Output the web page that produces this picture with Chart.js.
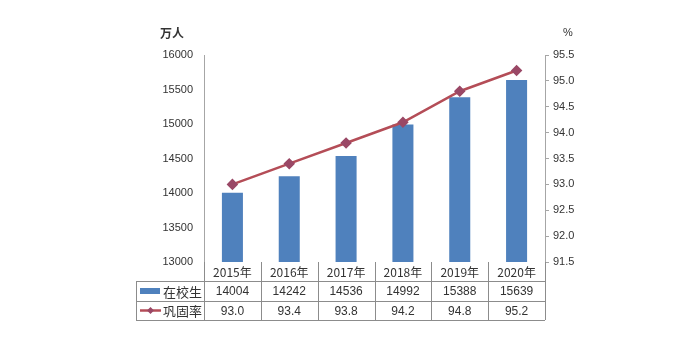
<!DOCTYPE html>
<html>
<head>
<meta charset="utf-8">
<script src="https://cdn.jsdelivr.net/npm/chart.js@4"></script>
<style>
  body { margin: 0; background: #fff; }
  canvas { display: block; }
</style>
</head>
<body>
<canvas id="chart" width="700" height="353"></canvas>
<script>
const years = ['2015年', '2016年', '2017年', '2018年', '2019年', '2020年'];
const students = [14004, 14242, 14536, 14992, 15388, 15639];
const rates = [93.0, 93.4, 93.8, 94.2, 94.8, 95.2];
const studentLabel = '在校生';
const rateLabel = '巩固率';
const leftUnit = '万人';
const rightUnit = '%';

const barColor = '#4F81BD';
const lineColor = '#B44D57';
const markerColor = '#9A4866';
const axisColor = '#A6A6A6';
const textColor = '#333';
const textFont = '"Liberation Sans", "Noto Sans CJK SC", sans-serif';
const cjkFont = '"Noto Sans CJK SC", sans-serif';

// draws the data table under the plot, plus the unit labels
const tablePlugin = {
    id: 'dataTable',
    afterDraw(chart) {
        const ctx = chart.ctx;
        const area = chart.chartArea;
        const x = chart.scales.x;
        const colW = (area.right - area.left) / years.length;
        const rowTops = [area.bottom, area.bottom + 19, area.bottom + 39, area.bottom + 58];
        const tableLeft = 136;

        ctx.save();
        ctx.strokeStyle = '#8C8C8C';
        ctx.lineWidth = 1;
        ctx.beginPath();
        // horizontal lines
        ctx.moveTo(tableLeft, rowTops[1] + 0.5); ctx.lineTo(area.right, rowTops[1] + 0.5);
        ctx.moveTo(tableLeft, rowTops[2] + 0.5); ctx.lineTo(area.right, rowTops[2] + 0.5);
        ctx.moveTo(tableLeft, rowTops[3] + 0.5); ctx.lineTo(area.right, rowTops[3] + 0.5);
        // vertical lines
        ctx.moveTo(tableLeft + 0.5, rowTops[1]); ctx.lineTo(tableLeft + 0.5, rowTops[3]);
        for (let i = 0; i <= years.length; i++) {
            const px = Math.round(area.left + i * colW) + 0.5;
            ctx.moveTo(px, rowTops[0]); ctx.lineTo(px, rowTops[3]);
        }
        ctx.stroke();

        ctx.fillStyle = textColor;
        ctx.textAlign = 'center';
        ctx.textBaseline = 'middle';
        ctx.font = '12px ' + cjkFont;
        years.forEach((y, i) => {
            ctx.fillText(y, x.getPixelForValue(i), (rowTops[0] + rowTops[1]) / 2 + 1);
        });
        ctx.font = '12px ' + textFont;
        students.forEach((v, i) => {
            ctx.fillText(String(v), x.getPixelForValue(i), (rowTops[1] + rowTops[2]) / 2 + 1);
        });
        rates.forEach((v, i) => {
            ctx.fillText(v.toFixed(1), x.getPixelForValue(i), (rowTops[2] + rowTops[3]) / 2 + 1);
        });

        // legend keys
        const midBar = (rowTops[1] + rowTops[2]) / 2;
        ctx.fillStyle = barColor;
        ctx.fillRect(140, midBar - 3, 20, 6);
        const midLine = (rowTops[2] + rowTops[3]) / 2;
        ctx.strokeStyle = lineColor;
        ctx.lineWidth = 2.5;
        ctx.beginPath();
        ctx.moveTo(140, midLine); ctx.lineTo(161, midLine);
        ctx.stroke();
        ctx.fillStyle = markerColor;
        ctx.beginPath();
        ctx.moveTo(150.5, midLine - 3.5); ctx.lineTo(154, midLine);
        ctx.lineTo(150.5, midLine + 3.5); ctx.lineTo(147, midLine);
        ctx.closePath(); ctx.fill();

        ctx.fillStyle = textColor;
        ctx.textAlign = 'left';
        ctx.font = '13px ' + cjkFont;
        ctx.fillText(studentLabel, 163, midBar + 1);
        ctx.fillText(rateLabel, 163, midLine + 1);

        // unit labels
        ctx.textAlign = 'center';
        ctx.font = 'bold 12px ' + cjkFont;
        ctx.fillText(leftUnit, 172, 33);
        ctx.font = '11px ' + textFont;
        ctx.fillText(rightUnit, 568, 33);
        ctx.restore();
    }
};

new Chart(document.getElementById('chart'), {
    data: {
        labels: years,
        datasets: [
            {
                type: 'line',
                label: rateLabel,
                data: rates,
                yAxisID: 'y1',
                borderColor: lineColor,
                borderWidth: 2.5,
                pointStyle: 'rectRot',
                pointRadius: 4,
                pointBackgroundColor: markerColor,
                pointBorderColor: markerColor,
                order: 1
            },
            {
                type: 'bar',
                label: studentLabel,
                data: students,
                yAxisID: 'y',
                backgroundColor: barColor,
                categoryPercentage: 1,
                barPercentage: 0.37,
                order: 2
            }
        ]
    },
    options: {
        responsive: false,
        animation: false,
        layout: { padding: { top: 55, bottom: 353 - 262, left: 0, right: 0 } },
        plugins: {
            legend: { display: false },
            tooltip: { enabled: false }
        },
        scales: {
            x: { display: false },
            y: {
                position: 'left',
                min: 13000,
                max: 16000,
                ticks: {
                    stepSize: 500,
                    padding: 11,
                    color: textColor,
                    font: { size: 11, family: textFont },
                    callback: v => String(v)
                },
                grid: { display: false, drawTicks: false },
                border: { display: true, color: axisColor, width: 1 },
                afterFit(scale) { scale.width = 204; }
            },
            y1: {
                position: 'right',
                min: 91.5,
                max: 95.5,
                ticks: {
                    stepSize: 0.5,
                    padding: 4,
                    color: textColor,
                    font: { size: 11, family: textFont },
                    callback: v => v.toFixed(1)
                },
                grid: { display: true, drawOnChartArea: false, drawTicks: true, tickLength: 4, color: axisColor },
                border: { display: true, color: axisColor, width: 1 },
                afterFit(scale) { scale.width = 700 - 545; }
            }
        }
    },
    plugins: [tablePlugin]
});
</script>
</body>
</html>
